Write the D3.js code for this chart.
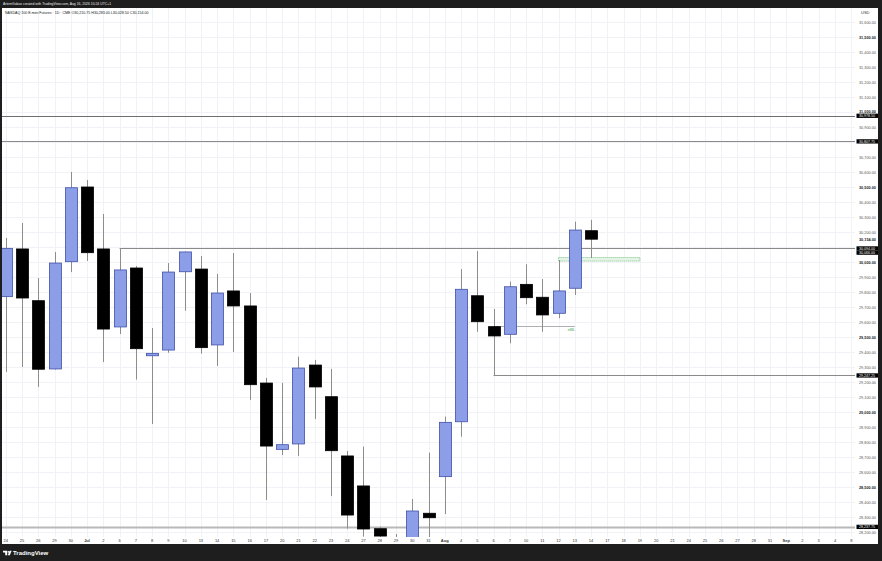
<!DOCTYPE html>
<html><head><meta charset="utf-8">
<script src="https://cdn.jsdelivr.net/npm/d3@7"></script>
<style>html,body{margin:0;padding:0;background:#1e1e1e;}svg{display:block}</style>
</head><body><svg id="c" width="882" height="561"></svg>
<script>
// ---- data ----
const dates = ["2026-06-24","2026-06-25","2026-06-26","2026-06-29","2026-06-30","2026-07-01","2026-07-02","2026-07-06","2026-07-07","2026-07-08","2026-07-09","2026-07-10","2026-07-13","2026-07-14","2026-07-15","2026-07-16","2026-07-17","2026-07-20","2026-07-21","2026-07-22","2026-07-23","2026-07-24","2026-07-27","2026-07-28","2026-07-29","2026-07-30","2026-07-31","2026-08-03","2026-08-04","2026-08-05","2026-08-06","2026-08-07","2026-08-10","2026-08-11","2026-08-12","2026-08-13","2026-08-14","2026-08-17","2026-08-18","2026-08-19","2026-08-20","2026-08-21","2026-08-24","2026-08-25","2026-08-26","2026-08-27","2026-08-28","2026-08-31","2026-09-01","2026-09-02","2026-09-03","2026-09-04","2026-09-08"];
const tickLabels = ["24","25","26","29","30","Jul","2","6","7","8","9","10","13","14","15","16","17","20","21","22","23","24","27","28","29","30","31","Aug","4","5","6","7","10","11","12","13","14","17","18","19","20","21","24","25","26","27","28","31","Sep","2","3","4","8"];
const opens  = [29771,30089,29744,29289,30004,30502,30089,29569,29962,29377,29415,29937,29955,29449,29809,29709,29195,28753,28789,29315,29104,28709,28509,28224,28150,28000,28327,28571,28937,29777,29571,29520,29853,29767,29660,29827,30210.75];
const highs  = [30162,30262,29895,30069,30602,30549,30322,30095,29975,29562,29995,30072,30042,29922,30062,29795,29229,29197,29371,29349,29289,28742,28771,28237,28189,28422,28731,28971,29955,30075,29689,29871,29987,29889,30015,30271,30283];
const lows   = [29269,29302,29169,29285,29935,30009,29335,29522,29218,28922,29397,29677,29391,29309,29402,29082,28415,28715,28709,28955,28442,28224,28171,28150,27980,27950,28165,28322,28837,29537,29247.25,29460,29720,29537,29627,29782,30028.5];
const closes = [30093,29762,29287,29995,30497,30064,29555,29949,29424,29393,29935,30069,29431,29795,29709,29184,28775,28784,29295,29169,28744,28315,28222,28175,28060,28342,28297,28933,29820,29604,29509,29837,29764,29649,29809,30215,30154];
const priceTicks = d3.range(28200, 31601, 100);
const levelPrices = [30978.5, 30807.75, 30094, 29247.25, 28237.75];
const levelStart  = [null, null, "2026-07-06", "2026-08-06", null];
const levelLabels = ["30,978.50","30,807.75","30,094.00","29,247.25","28,237.75"];
const extraLabelPrice = 30066; const extraLabelText = "30,066.00";
const lastPriceText = "30,154.00";
const fvgTop = 30028.5, fvgBottom = 30015, fvgFrom = "2026-08-12", fvgTo = "2026-08-19";
const gapPrice = 29575, gapFrom = "2026-08-06", gapTo = "2026-08-13", gapText = "nWL";
const title = "NASDAQ 100 E-mini Futures · 1D · CME";
const ohlcText = "O30,210.75  H30,283.00  L30,028.50  C30,154.00";
const credit = "ArtemGabas created with TradingView.com, Aug 16, 2026 10:24 UTC+1";

// ---- layout ----
const svg = d3.select("#c");
const W = 882, H = 561;
const plot = {l: 2, r: 855, t: 8, b: 537};
const font = "'Liberation Sans', Arial, sans-serif";

svg.append("rect").attr("width", W).attr("height", H).attr("fill", "#1e1e1e");
svg.append("rect").attr("x", 2).attr("y", 8).attr("width", 876).attr("height", 536).attr("fill", "#ffffff");

const x = d3.scalePoint().domain(dates).range([5.74, 5.74 + 16.26 * (dates.length - 1)]);
const y = d3.scaleLinear().domain([28300, 31600]).range([517.3, 22.3]);

svg.append("defs").append("clipPath").attr("id", "clip")
  .append("rect").attr("x", plot.l).attr("y", plot.t).attr("width", plot.r - plot.l).attr("height", plot.b - plot.t);

const g = svg.append("g").attr("clip-path", "url(#clip)");

// grid
g.append("g").selectAll("line").data(priceTicks).join("line")
  .attr("x1", plot.l).attr("x2", plot.r)
  .attr("y1", d => Math.round(y(d)) + 0.5).attr("y2", d => Math.round(y(d)) + 0.5)
  .attr("stroke", "#f1f2f5").attr("stroke-width", 1);
g.append("g").selectAll("line").data(dates).join("line")
  .attr("x1", d => Math.round(x(d)) + 0.5).attr("x2", d => Math.round(x(d)) + 0.5)
  .attr("y1", plot.t).attr("y2", plot.b)
  .attr("stroke", "#f1f2f5").attr("stroke-width", 1);

// level lines
levelPrices.forEach((p, i) => {
  const x1 = levelStart[i] ? x(levelStart[i]) : plot.l;
  const isBottom = i === levelPrices.length - 1;
  g.append("line").attr("x1", x1).attr("x2", plot.r)
    .attr("y1", Math.round(y(p)) + 0.5).attr("y2", Math.round(y(p)) + 0.5)
    .attr("stroke", isBottom ? "#b8b8b8" : (i === 0 ? "#6e6e6e" : "#8a8a8a"))
    .attr("stroke-width", isBottom ? 2 : 1);
});

// gap line
g.append("line").attr("x1", x(gapFrom)).attr("x2", x(gapTo))
  .attr("y1", Math.round(y(gapPrice)) + 0.5).attr("y2", Math.round(y(gapPrice)) + 0.5)
  .attr("stroke", "#b0b0b0").attr("stroke-width", 1);
g.append("text").attr("x", x(gapTo)).attr("y", y(gapPrice) + 4.5)
  .attr("text-anchor", "end").attr("font-family", font).attr("font-size", 3.4)
  .attr("fill", "#2e9e3e").text(gapText);

// FVG zone
g.append("rect").attr("x", x(fvgFrom)).attr("y", y(fvgTop) - 0.5)
  .attr("width", x(fvgTo) - x(fvgFrom)).attr("height", Math.max(3.5, y(fvgBottom) - y(fvgTop) + 1.5))
  .attr("fill", "#e6f4e8").attr("stroke", "#5cb86a").attr("stroke-width", 0.8)
  .attr("stroke-dasharray", "1,1");

// candles
const candles = opens.map((o, i) => ({d: dates[i], o, h: highs[i], l: lows[i], c: closes[i]}));
const bw = 12;
const cg = g.append("g");
cg.selectAll("line.w").data(candles).join("line").attr("class", "w")
  .attr("x1", d => Math.round(x(d.d)) + 0.5).attr("x2", d => Math.round(x(d.d)) + 0.5)
  .attr("y1", d => y(d.h)).attr("y2", d => y(d.l))
  .attr("stroke", "#8d8d8d").attr("stroke-width", 1);
cg.selectAll("rect.b").data(candles).join("rect").attr("class", "b")
  .attr("x", d => Math.round(x(d.d)) + 0.5 - bw / 2)
  .attr("y", d => y(Math.max(d.o, d.c)))
  .attr("width", bw)
  .attr("height", d => Math.max(1, Math.abs(y(d.o) - y(d.c))))
  .attr("fill", d => d.c >= d.o ? "#8d9ee9" : "#000000")
  .attr("stroke", d => d.c >= d.o ? "#4050a8" : "#000000")
  .attr("stroke-width", 0.8);

// price axis labels
const fmt = d3.format(",.2f");
const hidden = new Set([30800, 30100]);
svg.append("g").selectAll("text").data(priceTicks.filter(p => !hidden.has(p))).join("text")
  .attr("x", 859).attr("y", d => y(d) + (d === 31000 ? 0.8 : 1.4))
  .attr("font-family", font).attr("font-size", 3.8)
  .attr("font-weight", d => d % 500 === 0 ? "bold" : "normal")
  .attr("fill", d => d % 500 === 0 ? "#131722" : "#555")
  .text(d => fmt(d));
svg.append("text").attr("x", 861).attr("y", 14).attr("font-family", font).attr("font-size", 4)
  .attr("fill", "#333").text("USD");
svg.append("text").attr("x", 859).attr("y", y(30154) + 1.4).attr("font-family", font).attr("font-size", 3.8)
  .attr("font-weight", "bold").attr("fill", "#131722").text(lastPriceText);

function box(p, t) {
  const yy = y(p);
  svg.append("rect").attr("x", 856.5).attr("y", yy - 1.9).attr("width", 21.5).attr("height", 4.3).attr("fill", "#000");
  svg.append("text").attr("x", 859).attr("y", yy + 1.5).attr("font-family", font).attr("font-size", 3.6)
    .attr("fill", "#fff").text(t);
}
levelPrices.forEach((p, i) => box(p, levelLabels[i]));
box(extraLabelPrice, extraLabelText);

// time axis labels
svg.append("g").selectAll("text").data(dates).join("text")
  .attr("x", d => x(d)).attr("y", 542)
  .attr("text-anchor", "middle").attr("font-family", font).attr("font-size", 4)
  .attr("font-weight", (d, i) => isNaN(+tickLabels[i]) ? "bold" : "normal")
  .attr("fill", "#333")
  .text((d, i) => tickLabels[i]);

// header
svg.append("text").attr("x", 3).attr("y", 5.2).attr("font-family", font).attr("font-size", 3.4)
  .attr("fill", "#e8e8e8").text(credit);
svg.append("text").attr("x", 5).attr("y", 13.6).attr("font-family", font).attr("font-size", 3.6)
  .attr("fill", "#131722").text(title + "   " + ohlcText);

// logo
const lg = svg.append("g").attr("fill", "#ffffff");
lg.append("path").attr("d", "M3,550.8 H7.2 V555.2 H5.2 V552.6 H3 Z");
lg.append("circle").attr("cx", 8.4).attr("cy", 551.8).attr("r", 0.9);
lg.append("path").attr("d", "M9.6,550.8 H11.6 L9.8,555.2 H7.8 Z");
svg.append("text").attr("x", 13).attr("y", 555.2).attr("font-family", font).attr("font-size", 6)
  .attr("font-weight", "bold").attr("fill", "#ffffff").text("TradingView");
</script></body></html>
